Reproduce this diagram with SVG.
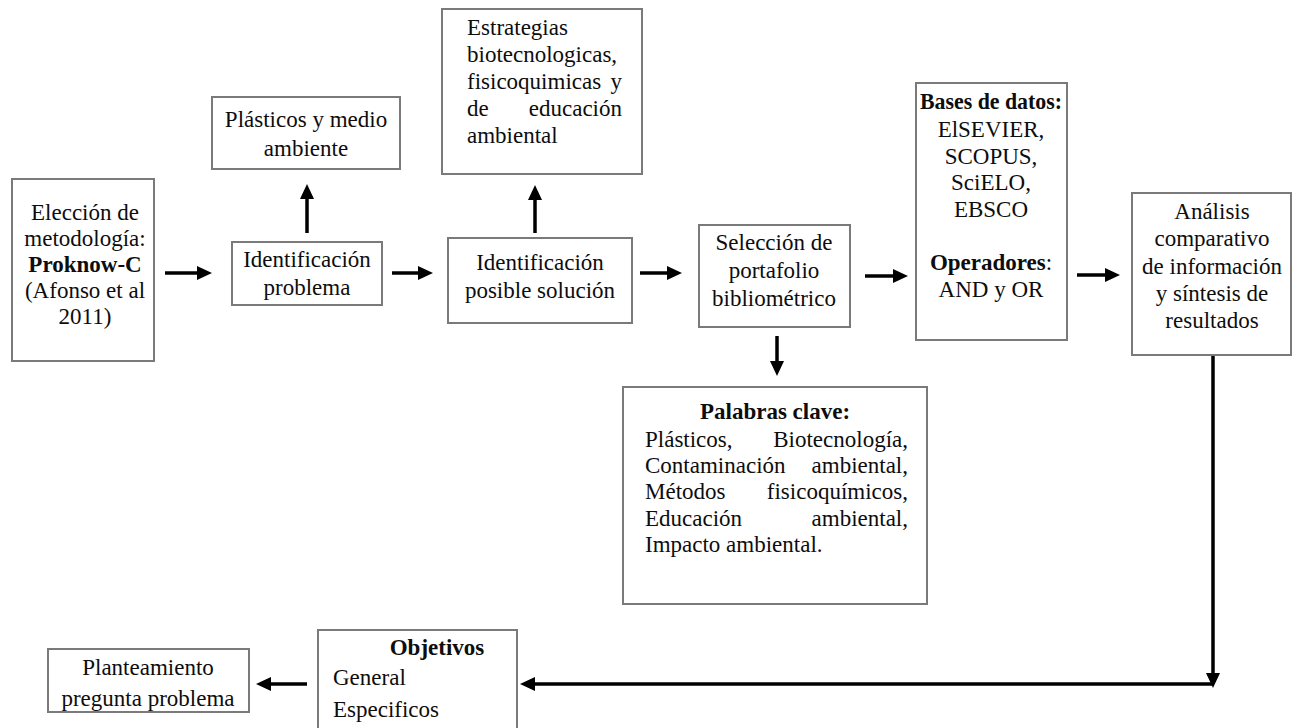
<svg xmlns="http://www.w3.org/2000/svg" width="1293" height="728" viewBox="0 0 1293 728">
<style>
.box{fill:#fff;stroke:#7a7a7a;stroke-width:2}
text{font-family:"Liberation Serif","Times New Roman",serif;font-size:23px;fill:#0d0d0d}
.c{text-anchor:middle}
.e{text-anchor:end}
.b{font-weight:bold}
.ln{stroke:#000;stroke-width:3.5;fill:none}
.arr{marker-end:url(#ah)}
</style>
<defs>
<marker id="ah" markerUnits="userSpaceOnUse" markerWidth="16" markerHeight="14" refX="3" refY="7" orient="auto">
<path d="M0,0 L15,7 L0,14 z" fill="#000"/>
</marker>
</defs>
<rect width="1293" height="728" fill="#fff"/>

<g id="eleccion">
<rect class="box" x="12" y="179" width="142" height="182"/>
<text class="c" x="85" y="220">Elección de</text>
<text class="c" x="85" y="246">metodología:</text>
<text class="c b" x="85" y="272">Proknow-C</text>
<text class="c" x="85" y="298">(Afonso et al</text>
<text class="c" x="85" y="324">2011)</text>
</g>

<g id="plasticos">
<rect class="box" x="212" y="97" width="188" height="72"/>
<text class="c" x="306" y="127">Plásticos y medio</text>
<text class="c" x="306" y="156">ambiente</text>
</g>

<g id="ident-problema">
<rect class="box" x="232" y="242" width="150" height="63"/>
<text class="c" x="307" y="267">Identificación</text>
<text class="c" x="307" y="295">problema</text>
</g>

<g id="estrategias">
<rect class="box" x="442" y="9" width="200" height="165"/>
<text x="467" y="35">Estrategias</text>
<text x="467" y="62">biotecnologicas,</text>
<text x="467" y="89">fisicoquimicas</text>
<text class="e" x="622" y="89">y</text>
<text x="467" y="116">de</text>
<text class="e" x="622" y="116">educación</text>
<text x="467" y="143">ambiental</text>
</g>

<g id="ident-solucion">
<rect class="box" x="448" y="238" width="184" height="85"/>
<text class="c" x="540" y="270">Identificación</text>
<text class="c" x="540" y="298">posible solución</text>
</g>

<g id="seleccion">
<rect class="box" x="699" y="225" width="151" height="102"/>
<text class="c" x="774" y="250">Selección de</text>
<text class="c" x="774" y="278">portafolio</text>
<text class="c" x="774" y="306">bibliométrico</text>
</g>

<g id="bases">
<rect class="box" x="916" y="83" width="151" height="257"/>
<text class="c b" x="991" y="109" textLength="142" lengthAdjust="spacingAndGlyphs">Bases de datos:</text>
<text class="c" x="991" y="137">ElSEVIER,</text>
<text class="c" x="991" y="164">SCOPUS,</text>
<text class="c" x="991" y="190">SciELO,</text>
<text class="c" x="991" y="217">EBSCO</text>
<text class="c" x="991" y="270"><tspan class="b">Operadores</tspan>:</text>
<text class="c" x="991" y="297">AND y OR</text>
</g>

<g id="analisis">
<rect class="box" x="1132" y="193" width="159" height="162"/>
<text class="c" x="1212" y="219">Análisis</text>
<text class="c" x="1212" y="246">comparativo</text>
<text class="c" x="1212" y="274">de información</text>
<text class="c" x="1212" y="301">y síntesis de</text>
<text class="c" x="1212" y="328">resultados</text>
</g>

<g id="palabras">
<rect class="box" x="623" y="387" width="304" height="217"/>
<text class="c b" x="775" y="419">Palabras clave:</text>
<text x="645" y="447">Plásticos,</text>
<text class="e" x="908" y="447">Biotecnología,</text>
<text x="645" y="473">Contaminación</text>
<text class="e" x="908" y="473">ambiental,</text>
<text x="645" y="499">Métodos</text>
<text class="e" x="908" y="499">fisicoquímicos,</text>
<text x="645" y="526">Educación</text>
<text class="e" x="908" y="526">ambiental,</text>
<text x="645" y="552">Impacto ambiental.</text>
</g>

<g id="objetivos">
<rect class="box" x="318" y="630" width="199" height="110"/>
<text class="c b" x="437" y="655">Objetivos</text>
<text x="333" y="685">General</text>
<text x="333" y="717">Especificos</text>
</g>

<g id="planteamiento">
<rect class="box" x="48" y="649" width="201" height="63"/>
<text class="c" x="148" y="675">Planteamiento</text>
<text class="c" x="148" y="706">pregunta problema</text>
</g>

<g id="connectors">
<line class="ln arr" x1="165" y1="273" x2="200" y2="273"/>
<line class="ln arr" x1="392" y1="273" x2="421" y2="273"/>
<line class="ln arr" x1="640" y1="273" x2="670" y2="273"/>
<line class="ln arr" x1="865" y1="276" x2="896" y2="276"/>
<line class="ln arr" x1="1077" y1="275" x2="1108" y2="275"/>
<line class="ln arr" x1="307" y1="233" x2="307" y2="196"/>
<line class="ln arr" x1="535" y1="233" x2="535" y2="197"/>
<line class="ln arr" x1="777" y1="336" x2="777" y2="364"/>
<line class="ln arr" x1="1213" y1="356" x2="1213" y2="676"/>
<line class="ln arr" x1="1213" y1="684" x2="532" y2="684"/>
<line class="ln arr" x1="307" y1="684" x2="268" y2="684"/>
</g>
</svg>
